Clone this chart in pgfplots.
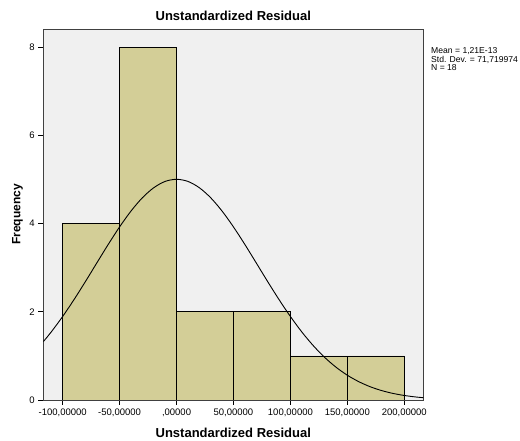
\documentclass[border=0pt]{standalone}
\usepackage{fontspec}
\setmainfont{Liberation Sans}
\usepackage{pgfplots}
\pgfplotsset{compat=1.18}
\definecolor{bgc}{RGB}{240,240,240}
\definecolor{barc}{RGB}{211,206,151}
\begin{document}
\begin{tikzpicture}[x=1pt,y=1pt]
\begin{axis}[
  scale only axis, width=380pt, height=371pt,
  xmin=-117, xmax=216.7, ymin=0, ymax=8.415,
  axis background/.style={fill=bgc},
  axis line style={draw=black!75, line width=0.9pt},
  xtick={-100,-50,0,50,100,150,200},
  xticklabels={{-100,00000},{-50,00000},{,00000},{50,00000},{100,00000},{150,00000},{200,00000}},
  ytick={0,2,4,6,8},
  tick align=outside, xtick pos=bottom, ytick pos=left, major tick length=5pt,
  tick style={black, line width=0.8pt},
  ticklabel style={font=\fontsize{9.5}{10}\selectfont},
  /pgf/number format/assume math mode=true,
  xlabel={Unstandardized Residual},
  xlabel style={font=\bfseries\fontsize{13}{14}\selectfont, at={(axis description cs:0.5,0)}, anchor=base, yshift=-38pt},
  ylabel={Frequency},
  ylabel style={font=\bfseries\fontsize{12}{13}\selectfont, at={(axis description cs:-0.068,0.5)}, anchor=center},
]
\addplot[ybar interval, fill=barc, draw=black, line width=0.8pt] coordinates {(-100,4)(-50,8)(0,2)(50,2)(100,1)(150,1)(200,1)};
\addplot[smooth, black, line width=0.9pt, mark=none] coordinates {
(-117,1.323)(-110,1.544)(-100,1.894)(-90,2.278)(-80,2.687)(-70,3.109)(-60,3.528)(-50,3.926)(-40,4.285)(-30,4.587)(-20,4.815)(-10,4.958)(0,5.006)
(10,4.958)(20,4.815)(30,4.587)(40,4.285)(50,3.926)(60,3.528)(70,3.109)(80,2.687)(90,2.278)(100,1.894)(110,1.544)(120,1.235)(130,0.968)(140,0.745)(150,0.562)(160,0.416)(170,0.3016)(180,0.2146)(190,0.1498)(200,0.1025)(210,0.0688)(216.7,0.0525)};
\end{axis}
\node[anchor=base, inner sep=0pt, font=\bfseries\fontsize{13}{14}\selectfont] at (190,379.3) {Unstandardized Residual};
\node[anchor=north west, inner sep=0pt, align=left, font=\fontsize{8.6}{7}\selectfont] at (387.7,352.3) {Mean = 1,21E-13\\Std. Dev. = 71,719974\\N = 18};
\pgfresetboundingbox
\useasboundingbox (-43.3,-41) rectangle (476.7,400);
\end{tikzpicture}
\end{document}
